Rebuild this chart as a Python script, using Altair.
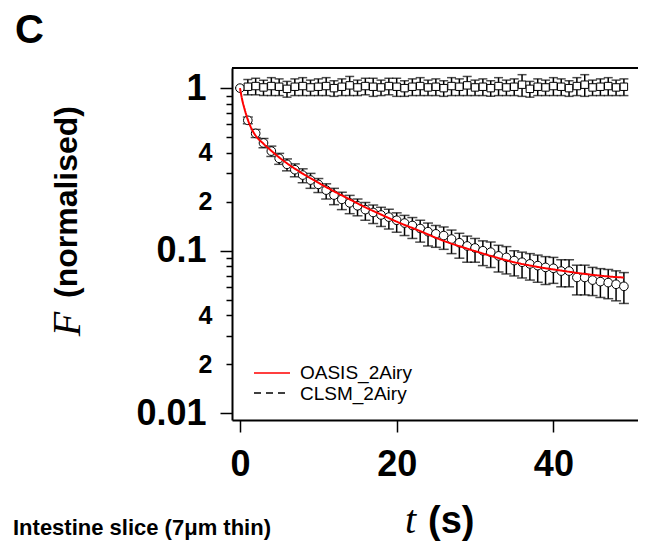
import altair as alt
import pandas as pd

# ---------------- data ----------------
t_oasis = list(range(50))
f_oasis = [1.00, 0.634, 0.527, 0.46, 0.41, 0.37, 0.34, 0.315, 0.292, 0.272,
           0.256, 0.236, 0.220, 0.207, 0.197, 0.189, 0.179, 0.172, 0.166, 0.161,
           0.154, 0.148, 0.143, 0.137, 0.131, 0.127, 0.124, 0.118, 0.112, 0.107,
           0.104, 0.100, 0.098, 0.093, 0.091, 0.087, 0.085, 0.083, 0.081, 0.079,
           0.078, 0.075, 0.075, 0.0685, 0.0685, 0.066, 0.0646, 0.0637, 0.0622, 0.0604]
e_hi_oasis = [0.0, 0.03, 0.03, 0.03, 0.03, 0.027, 0.027, 0.027, 0.027, 0.027,
              0.022, 0.022, 0.022, 0.022, 0.022, 0.019, 0.019, 0.019, 0.019, 0.019,
              0.017, 0.017, 0.017, 0.017, 0.017, 0.016, 0.016, 0.016, 0.016, 0.016,
              0.015, 0.015, 0.015, 0.015, 0.015, 0.013, 0.013, 0.013, 0.013, 0.013,
              0.013, 0.013, 0.013, 0.013, 0.013, 0.013, 0.013, 0.013, 0.013, 0.013]
e_lo_oasis = [0.0, 0.03, 0.03, 0.03, 0.03, 0.03, 0.03, 0.03, 0.03, 0.03,
              0.028, 0.028, 0.028, 0.028, 0.028, 0.025, 0.025, 0.025, 0.025, 0.025,
              0.024, 0.024, 0.024, 0.024, 0.024, 0.022, 0.022, 0.022, 0.022, 0.022,
              0.019, 0.019, 0.019, 0.019, 0.019, 0.017, 0.017, 0.017, 0.017, 0.017,
              0.015, 0.015, 0.015, 0.015, 0.015, 0.013, 0.013, 0.013, 0.013, 0.013]

t_clsm = list(range(1, 50))
f_clsm = [1.02, 1.03, 1.01, 1.03, 1.02, 0.99, 1.02, 1.03, 1.01, 1.02,
          1.03, 1.00, 1.02, 1.04, 1.01, 1.03, 1.02, 1.01, 1.03, 1.02,
          1.00, 1.02, 1.03, 1.01, 1.02, 1.00, 1.03, 1.02, 1.04, 1.01,
          1.02, 1.00, 1.03, 1.01, 1.02, 1.05, 0.99, 1.02, 1.01, 1.03,
          1.02, 1.00, 1.03, 1.05, 1.01, 1.02, 1.03, 1.01, 1.02]
e_clsm = [0.11, 0.12, 0.11, 0.13, 0.12, 0.11, 0.12, 0.13, 0.11, 0.12,
          0.13, 0.11, 0.12, 0.14, 0.11, 0.12, 0.13, 0.11, 0.12, 0.13,
          0.11, 0.12, 0.13, 0.11, 0.12, 0.11, 0.13, 0.12, 0.14, 0.11,
          0.12, 0.11, 0.13, 0.11, 0.12, 0.16, 0.11, 0.12, 0.11, 0.13,
          0.12, 0.11, 0.13, 0.16, 0.11, 0.12, 0.13, 0.11, 0.12]

t_fit = [0, 0.3, 0.6, 1, 1.5, 2, 3, 4, 5, 6, 8, 10, 12, 14, 16, 18, 20,
         23, 26, 29, 32, 35, 38, 41, 44, 47, 49]
f_fit = [1.0, 0.84, 0.74, 0.64, 0.56, 0.51, 0.455, 0.412, 0.375, 0.345,
         0.298, 0.262, 0.232, 0.207, 0.185, 0.167, 0.151, 0.132, 0.115,
         0.103, 0.093, 0.085, 0.0795, 0.0755, 0.072, 0.0695, 0.0684]

series_names = ["OASIS_2Airy", "CLSM_2Airy"]
series_colors = ["#ff0000", "black"]
series_dash = [[1, 0], [7, 5]]
x_ticks = [0, 20, 40]
y_ticks = [0.01, 0.02, 0.03, 0.04, 0.05, 0.06, 0.07, 0.08, 0.09,
           0.1, 0.2, 0.3, 0.4, 0.5, 0.6, 0.7, 0.8, 0.9, 1]

# ---------------- tables ----------------
oasis = pd.DataFrame({"t": t_oasis, "f": f_oasis})
oasis["lo"] = oasis["f"] - pd.Series(e_lo_oasis)
oasis["hi"] = oasis["f"] + pd.Series(e_hi_oasis)
clsm = pd.DataFrame({"t": t_clsm, "f": f_clsm, "e": e_clsm})
clsm["lo"] = clsm["f"] - clsm["e"]
clsm["hi"] = clsm["f"] + clsm["e"]


def caps(df):
    return pd.concat([df[["t"]].assign(f=df["lo"]), df[["t"]].assign(f=df["hi"])])


fit = pd.DataFrame({"t": t_fit, "f": f_fit, "series": series_names[0]})
clsm_line = pd.DataFrame({"t": t_clsm, "f": f_clsm, "series": series_names[1]})
dummy = pd.DataFrame({"a": [0]})

W, H = 406, 352
FONT = "Liberation Sans"
SERIF = "Liberation Serif"

xs = alt.Scale(domain=[-1.02, 50.8], nice=False, zero=False)
ys = alt.Scale(type="log", domain=[0.0091, 1.33], nice=False)

major = "datum.value == 1 || datum.value == 0.1 || datum.value == 0.01"
xaxis = alt.Axis(values=x_ticks, title=None, grid=False, tickSize=12, tickWidth=1.5,
                 domainWidth=2, domainColor="black", tickColor="black",
                 labelFont=FONT, labelFontWeight="bold", labelFontSize=36,
                 labelColor="black", labelPadding=15, labelFlush=False)
yaxis = alt.Axis(values=y_ticks, title=None, grid=False,
                 tickSize={"condition": {"test": major, "value": 12}, "value": 6},
                 tickWidth=1.5, domainWidth=2, domainColor="black", tickColor="black",
                 labelFont=FONT, labelFontWeight="bold",
                 labelFontSize={"condition": {"test": major, "value": 36}, "value": 25},
                 labelColor="black", labelPadding=14, labelOverlap=False, labelFlush=False,
                 labelExpr="datum.value == 1 ? '1' : datum.value == 0.1 ? '0.1' : "
                           "datum.value == 0.01 ? '0.01' : "
                           "(round(datum.value*1000) == 400 || round(datum.value*1000) == 40) ? '4' : "
                           "(round(datum.value*1000) == 200 || round(datum.value*1000) == 20) ? '2' : ''")

X = alt.X("t:Q", scale=xs, axis=xaxis)
Y = alt.Y("f:Q", scale=ys, axis=yaxis)
YLO = alt.Y("lo:Q", scale=ys, axis=yaxis)

color = alt.Color("series:N", scale=alt.Scale(domain=series_names, range=series_colors),
                  legend=None)
dash = alt.StrokeDash("series:N", scale=alt.Scale(domain=series_names, range=series_dash),
                      legend=None)

o_err = alt.Chart(oasis).mark_rule(color="black", strokeWidth=1.5).encode(x=X, y=YLO, y2="hi:Q")
o_caps = alt.Chart(caps(oasis)).mark_tick(orient="horizontal", size=10, thickness=1.5,
                                          color="black").encode(x=X, y=Y)
c_err = alt.Chart(clsm).mark_rule(color="black", strokeWidth=1.5).encode(x=X, y=YLO, y2="hi:Q")
c_caps = alt.Chart(caps(clsm)).mark_tick(orient="horizontal", size=9, thickness=1.5,
                                         color="black").encode(x=X, y=Y)
c_line = alt.Chart(clsm_line).mark_line(strokeWidth=1.5).encode(x=X, y=Y, color=color,
                                                                 strokeDash=dash)
o_pts = alt.Chart(oasis).mark_point(shape="circle", filled=True, fill="white",
                                    stroke="black", strokeWidth=1, size=75,
                                    opacity=1).encode(x=X, y=Y)
c_pts = alt.Chart(clsm).mark_point(shape="square", filled=True, fill="white",
                                   stroke="black", strokeWidth=1, size=55,
                                   opacity=1).encode(x=X, y=Y)
f_line = alt.Chart(fit).mark_line(strokeWidth=2, interpolate="monotone").encode(
    x=X, y=Y, color=color, strokeDash=dash)

top_rule = alt.Chart(dummy).mark_rule(color="black", strokeWidth=2).encode(
    x=alt.value(0), x2=alt.value(W), y=alt.value(0))

# legend (drawn by hand)
leg_lines = [
    alt.Chart(dummy).mark_rule(color=series_colors[i], strokeWidth=1.5,
                               strokeDash=series_dash[i]).encode(
        x=alt.value(22), x2=alt.value(58), y=alt.value(305 + 20 * i))
    for i in range(2)
]


def txt(s, x, y, size, font=FONT, weight="bold", style="normal", angle=0, align="left"):
    return alt.Chart(dummy).mark_text(text=s, font=font, fontSize=size, fontWeight=weight,
                                      fontStyle=style, angle=angle, align=align,
                                      baseline="alphabetic", color="black").encode(
        x=alt.value(x), y=alt.value(y))


texts = [
    txt(series_names[0], 68, 311, 19, weight="normal"),
    txt(series_names[1], 68, 332, 19, weight="normal"),
    txt("C", -217, -25, 40),
    txt("Intestine slice (7μm thin)", -219, 467, 22),
    txt("(normalised)", -155, 134, 32, angle=270, align="center"),
    txt("F", -152, 256, 40, font=SERIF, weight="normal", style="italic", angle=270,
        align="center"),
    txt("t", 173, 465, 40, font=SERIF, weight="normal", style="italic"),
    txt("(s)", 196, 465, 38),
]

chart = alt.layer(o_err, o_caps, c_err, c_caps, c_line, o_pts, c_pts, f_line, top_rule,
                  *leg_lines, *texts).properties(
    width=W, height=H,
    autosize=alt.AutoSizeParams(type="none"),
    padding={"left": 224, "top": 60, "right": 0, "bottom": 121},
).configure(background="white").configure_view(stroke=None)

chart.save("out.html", embed_options={"renderer": "svg", "actions": False})
